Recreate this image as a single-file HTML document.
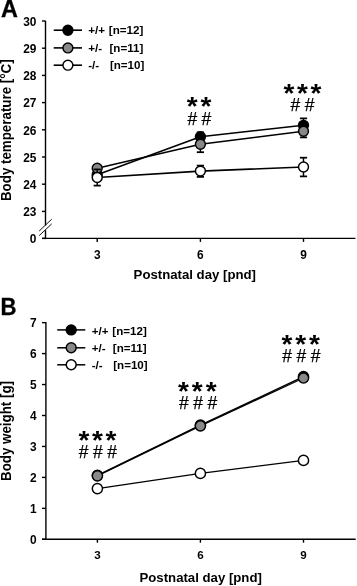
<!DOCTYPE html>
<html><head><meta charset="utf-8"><title>Body temperature and body weight</title><style>
html,body{margin:0;padding:0;background:#fff;width:357px;height:586px;overflow:hidden;}
svg{display:block;will-change:transform;}
text{font-family:"Liberation Sans",sans-serif;fill:#000;}
</style></head><body>
<svg width="357" height="586" viewBox="0 0 357 586">
<rect width="357" height="586" fill="#fff"/>
<text x="0.90" y="16.90" font-size="23.4" font-weight="bold" text-anchor="start" stroke="#000" stroke-width="0.35">A</text>
<line x1="45.50" y1="20.80" x2="45.50" y2="225.50" stroke="#000" stroke-width="1.4"/>
<line x1="45.50" y1="230.20" x2="45.50" y2="239.10" stroke="#000" stroke-width="1.4"/>
<line x1="39.20" y1="231.00" x2="51.70" y2="219.20" stroke="#111" stroke-width="1.0"/>
<line x1="39.20" y1="235.60" x2="51.70" y2="223.90" stroke="#111" stroke-width="1.0"/>
<line x1="42.00" y1="211.40" x2="45.50" y2="211.40" stroke="#000" stroke-width="1.4"/>
<text x="36.40" y="216.20" font-size="11.9" font-weight="bold" text-anchor="end" >23</text>
<line x1="42.00" y1="184.20" x2="45.50" y2="184.20" stroke="#000" stroke-width="1.4"/>
<text x="36.40" y="189.00" font-size="11.9" font-weight="bold" text-anchor="end" >24</text>
<line x1="42.00" y1="157.00" x2="45.50" y2="157.00" stroke="#000" stroke-width="1.4"/>
<text x="36.40" y="161.80" font-size="11.9" font-weight="bold" text-anchor="end" >25</text>
<line x1="42.00" y1="129.80" x2="45.50" y2="129.80" stroke="#000" stroke-width="1.4"/>
<text x="36.40" y="134.60" font-size="11.9" font-weight="bold" text-anchor="end" >26</text>
<line x1="42.00" y1="102.60" x2="45.50" y2="102.60" stroke="#000" stroke-width="1.4"/>
<text x="36.40" y="107.40" font-size="11.9" font-weight="bold" text-anchor="end" >27</text>
<line x1="42.00" y1="75.40" x2="45.50" y2="75.40" stroke="#000" stroke-width="1.4"/>
<text x="36.40" y="80.20" font-size="11.9" font-weight="bold" text-anchor="end" >28</text>
<line x1="42.00" y1="48.20" x2="45.50" y2="48.20" stroke="#000" stroke-width="1.4"/>
<text x="36.40" y="53.00" font-size="11.9" font-weight="bold" text-anchor="end" >29</text>
<line x1="42.00" y1="21.00" x2="45.50" y2="21.00" stroke="#000" stroke-width="1.4"/>
<text x="36.40" y="25.80" font-size="11.9" font-weight="bold" text-anchor="end" >30</text>
<line x1="42.00" y1="238.40" x2="45.50" y2="238.40" stroke="#000" stroke-width="1.4"/>
<text x="36.40" y="243.20" font-size="11.9" font-weight="bold" text-anchor="end" >0</text>
<line x1="42.00" y1="238.40" x2="355.50" y2="238.40" stroke="#000" stroke-width="1.4"/>
<line x1="97.20" y1="238.40" x2="97.20" y2="241.90" stroke="#000" stroke-width="1.4"/>
<text x="97.20" y="258.50" font-size="11.9" font-weight="bold" text-anchor="middle" >3</text>
<line x1="200.40" y1="238.40" x2="200.40" y2="241.90" stroke="#000" stroke-width="1.4"/>
<text x="200.40" y="258.50" font-size="11.9" font-weight="bold" text-anchor="middle" >6</text>
<line x1="303.50" y1="238.40" x2="303.50" y2="241.90" stroke="#000" stroke-width="1.4"/>
<text x="303.50" y="258.50" font-size="11.9" font-weight="bold" text-anchor="middle" >9</text>
<text x="133.60" y="278.50" font-size="13.2" font-weight="bold" text-anchor="start" >Postnatal day [pnd]</text>
<text transform="translate(11.1,130.2) rotate(-90) scale(1,1.1)" font-size="13.35" font-weight="bold" text-anchor="middle">Body temperature [°C]</text>
<line x1="53.70" y1="30.20" x2="82.00" y2="30.20" stroke="#000" stroke-width="1.6"/>
<circle cx="67.90" cy="30.20" r="4.95" fill="#000" stroke="#000" stroke-width="1.45"/>
<text x="88.20" y="34.20" font-size="11.6" font-weight="bold" text-anchor="start" >+/+</text>
<text x="108.80" y="34.20" font-size="11.6" font-weight="bold" text-anchor="start" >[n=12]</text>
<line x1="53.70" y1="47.90" x2="82.00" y2="47.90" stroke="#000" stroke-width="1.6"/>
<circle cx="67.90" cy="47.90" r="4.95" fill="#888888" stroke="#000" stroke-width="1.45"/>
<text x="88.20" y="51.90" font-size="11.6" font-weight="bold" text-anchor="start" >+/-</text>
<text x="109.50" y="51.90" font-size="11.6" font-weight="bold" text-anchor="start" >[n=11]</text>
<line x1="53.70" y1="65.20" x2="82.00" y2="65.20" stroke="#000" stroke-width="1.6"/>
<circle cx="67.90" cy="65.20" r="4.95" fill="#fff" stroke="#000" stroke-width="1.45"/>
<text x="88.20" y="69.20" font-size="11.6" font-weight="bold" text-anchor="start" >-/-</text>
<text x="109.90" y="69.20" font-size="11.6" font-weight="bold" text-anchor="start" >[n=10]</text>
<polyline points="97.20,174.80 200.40,136.70 303.50,125.30" fill="none" stroke="#000" stroke-width="1.6" stroke-linejoin="round"/>
<circle cx="97.20" cy="174.80" r="4.95" fill="#000" stroke="#000" stroke-width="1.45"/>
<line x1="200.40" y1="136.70" x2="200.40" y2="132.30" stroke="#000" stroke-width="1.45"/>
<line x1="196.80" y1="132.30" x2="204.00" y2="132.30" stroke="#000" stroke-width="1.75"/>
<circle cx="200.40" cy="136.70" r="4.95" fill="#000" stroke="#000" stroke-width="1.45"/>
<line x1="303.50" y1="125.30" x2="303.50" y2="118.40" stroke="#000" stroke-width="1.45"/>
<line x1="299.90" y1="118.40" x2="307.10" y2="118.40" stroke="#000" stroke-width="1.75"/>
<circle cx="303.50" cy="125.30" r="4.95" fill="#000" stroke="#000" stroke-width="1.45"/>
<polyline points="97.20,168.20 200.40,144.20 303.50,131.20" fill="none" stroke="#000" stroke-width="1.6" stroke-linejoin="round"/>
<line x1="97.20" y1="168.20" x2="97.20" y2="175.00" stroke="#000" stroke-width="1.45"/>
<line x1="93.60" y1="175.00" x2="100.80" y2="175.00" stroke="#000" stroke-width="1.75"/>
<circle cx="97.20" cy="168.20" r="4.95" fill="#888888" stroke="#000" stroke-width="1.45"/>
<line x1="200.40" y1="144.20" x2="200.40" y2="152.20" stroke="#000" stroke-width="1.45"/>
<line x1="196.80" y1="152.20" x2="204.00" y2="152.20" stroke="#000" stroke-width="1.75"/>
<circle cx="200.40" cy="144.20" r="4.95" fill="#888888" stroke="#000" stroke-width="1.45"/>
<line x1="303.50" y1="131.20" x2="303.50" y2="137.40" stroke="#000" stroke-width="1.45"/>
<line x1="299.90" y1="137.40" x2="307.10" y2="137.40" stroke="#000" stroke-width="1.75"/>
<circle cx="303.50" cy="131.20" r="4.95" fill="#888888" stroke="#000" stroke-width="1.45"/>
<polyline points="97.20,177.50 200.40,171.10 303.50,167.00" fill="none" stroke="#000" stroke-width="1.6" stroke-linejoin="round"/>
<line x1="97.20" y1="177.50" x2="97.20" y2="169.40" stroke="#000" stroke-width="1.45"/>
<line x1="93.60" y1="169.40" x2="100.80" y2="169.40" stroke="#000" stroke-width="1.75"/>
<line x1="97.20" y1="177.50" x2="97.20" y2="185.60" stroke="#000" stroke-width="1.45"/>
<line x1="93.60" y1="185.60" x2="100.80" y2="185.60" stroke="#000" stroke-width="1.75"/>
<circle cx="97.20" cy="177.50" r="4.95" fill="#fff" stroke="#000" stroke-width="1.45"/>
<line x1="200.40" y1="171.10" x2="200.40" y2="165.60" stroke="#000" stroke-width="1.45"/>
<line x1="196.80" y1="165.60" x2="204.00" y2="165.60" stroke="#000" stroke-width="1.75"/>
<line x1="200.40" y1="171.10" x2="200.40" y2="176.90" stroke="#000" stroke-width="1.45"/>
<line x1="196.80" y1="176.90" x2="204.00" y2="176.90" stroke="#000" stroke-width="1.75"/>
<circle cx="200.40" cy="171.10" r="4.95" fill="#fff" stroke="#000" stroke-width="1.45"/>
<line x1="303.50" y1="167.00" x2="303.50" y2="157.70" stroke="#000" stroke-width="1.45"/>
<line x1="299.90" y1="157.70" x2="307.10" y2="157.70" stroke="#000" stroke-width="1.75"/>
<line x1="303.50" y1="167.00" x2="303.50" y2="176.40" stroke="#000" stroke-width="1.45"/>
<line x1="299.90" y1="176.40" x2="307.10" y2="176.40" stroke="#000" stroke-width="1.75"/>
<circle cx="303.50" cy="167.00" r="4.95" fill="#fff" stroke="#000" stroke-width="1.45"/>
<text transform="translate(192.30,115.30) scale(1.12,1.06)" font-size="25" font-weight="bold" text-anchor="middle">*</text>
<text transform="translate(206.00,115.30) scale(1.12,1.06)" font-size="25" font-weight="bold" text-anchor="middle">*</text>
<text x="192.40" y="124.90" font-size="17.5" font-weight="normal" text-anchor="middle" stroke="#000" stroke-width="0.25">#</text>
<text x="206.30" y="124.90" font-size="17.5" font-weight="normal" text-anchor="middle" stroke="#000" stroke-width="0.25">#</text>
<text transform="translate(289.00,101.80) scale(1.12,1.06)" font-size="25" font-weight="bold" text-anchor="middle">*</text>
<text transform="translate(302.50,101.80) scale(1.12,1.06)" font-size="25" font-weight="bold" text-anchor="middle">*</text>
<text transform="translate(316.00,101.80) scale(1.12,1.06)" font-size="25" font-weight="bold" text-anchor="middle">*</text>
<text x="295.30" y="110.50" font-size="17.5" font-weight="normal" text-anchor="middle" stroke="#000" stroke-width="0.25">#</text>
<text x="309.70" y="110.50" font-size="17.5" font-weight="normal" text-anchor="middle" stroke="#000" stroke-width="0.25">#</text>
<text transform="translate(0.6,314.8) scale(0.97,1.04)" font-size="22.8" font-weight="bold" stroke="#000" stroke-width="0.3">B</text>
<line x1="45.90" y1="322.00" x2="45.90" y2="540.00" stroke="#000" stroke-width="1.4"/>
<line x1="42.00" y1="539.30" x2="45.90" y2="539.30" stroke="#000" stroke-width="1.4"/>
<text x="36.60" y="543.70" font-size="11.9" font-weight="bold" text-anchor="end" >0</text>
<line x1="42.00" y1="508.35" x2="45.90" y2="508.35" stroke="#000" stroke-width="1.4"/>
<text x="36.60" y="512.75" font-size="11.9" font-weight="bold" text-anchor="end" >1</text>
<line x1="42.00" y1="477.40" x2="45.90" y2="477.40" stroke="#000" stroke-width="1.4"/>
<text x="36.60" y="481.80" font-size="11.9" font-weight="bold" text-anchor="end" >2</text>
<line x1="42.00" y1="446.45" x2="45.90" y2="446.45" stroke="#000" stroke-width="1.4"/>
<text x="36.60" y="450.85" font-size="11.9" font-weight="bold" text-anchor="end" >3</text>
<line x1="42.00" y1="415.50" x2="45.90" y2="415.50" stroke="#000" stroke-width="1.4"/>
<text x="36.60" y="419.90" font-size="11.9" font-weight="bold" text-anchor="end" >4</text>
<line x1="42.00" y1="384.55" x2="45.90" y2="384.55" stroke="#000" stroke-width="1.4"/>
<text x="36.60" y="388.95" font-size="11.9" font-weight="bold" text-anchor="end" >5</text>
<line x1="42.00" y1="353.60" x2="45.90" y2="353.60" stroke="#000" stroke-width="1.4"/>
<text x="36.60" y="358.00" font-size="11.9" font-weight="bold" text-anchor="end" >6</text>
<line x1="42.00" y1="322.65" x2="45.90" y2="322.65" stroke="#000" stroke-width="1.4"/>
<text x="36.60" y="327.05" font-size="11.9" font-weight="bold" text-anchor="end" >7</text>
<line x1="42.00" y1="539.30" x2="355.70" y2="539.30" stroke="#000" stroke-width="1.4"/>
<line x1="97.40" y1="539.30" x2="97.40" y2="542.70" stroke="#000" stroke-width="1.4"/>
<text x="97.40" y="559.30" font-size="11.6" font-weight="bold" text-anchor="middle" >3</text>
<line x1="200.40" y1="539.30" x2="200.40" y2="542.70" stroke="#000" stroke-width="1.4"/>
<text x="200.40" y="559.30" font-size="11.6" font-weight="bold" text-anchor="middle" >6</text>
<line x1="303.50" y1="539.30" x2="303.50" y2="542.70" stroke="#000" stroke-width="1.4"/>
<text x="303.50" y="559.30" font-size="11.6" font-weight="bold" text-anchor="middle" >9</text>
<text x="139.50" y="581.90" font-size="13.2" font-weight="bold" text-anchor="start" >Postnatal day [pnd]</text>
<text transform="translate(11.1,431.0) rotate(-90) scale(1,1.1)" font-size="13.35" font-weight="bold" text-anchor="middle">Body weight [g]</text>
<line x1="57.20" y1="329.90" x2="85.30" y2="329.90" stroke="#000" stroke-width="1.5"/>
<circle cx="71.20" cy="329.90" r="4.95" fill="#000" stroke="#000" stroke-width="1.45"/>
<text x="91.70" y="334.50" font-size="11.6" font-weight="bold" text-anchor="start" >+/+</text>
<text x="112.30" y="334.50" font-size="11.6" font-weight="bold" text-anchor="start" >[n=12]</text>
<line x1="57.20" y1="347.80" x2="85.30" y2="347.80" stroke="#000" stroke-width="1.5"/>
<circle cx="71.20" cy="347.80" r="4.95" fill="#888888" stroke="#000" stroke-width="1.45"/>
<text x="91.70" y="352.40" font-size="11.6" font-weight="bold" text-anchor="start" >+/-</text>
<text x="112.80" y="352.40" font-size="11.6" font-weight="bold" text-anchor="start" >[n=11]</text>
<line x1="57.20" y1="364.80" x2="85.30" y2="364.80" stroke="#000" stroke-width="1.5"/>
<circle cx="71.20" cy="364.80" r="4.95" fill="#fff" stroke="#000" stroke-width="1.45"/>
<text x="91.70" y="369.40" font-size="11.6" font-weight="bold" text-anchor="start" >-/-</text>
<text x="113.20" y="369.40" font-size="11.6" font-weight="bold" text-anchor="start" >[n=10]</text>
<polyline points="97.40,475.30 200.40,425.10 303.50,376.60" fill="none" stroke="#000" stroke-width="1.35" stroke-linejoin="round"/>
<circle cx="97.40" cy="475.30" r="5.1" fill="#000" stroke="#000" stroke-width="1.45"/>
<circle cx="200.40" cy="425.10" r="5.1" fill="#000" stroke="#000" stroke-width="1.45"/>
<circle cx="303.50" cy="376.60" r="5.1" fill="#000" stroke="#000" stroke-width="1.45"/>
<polyline points="97.40,475.80 200.40,425.80 303.50,378.00" fill="none" stroke="#000" stroke-width="1.35" stroke-linejoin="round"/>
<circle cx="97.40" cy="475.80" r="5.1" fill="#888888" stroke="#000" stroke-width="1.45"/>
<circle cx="200.40" cy="425.80" r="5.1" fill="#888888" stroke="#000" stroke-width="1.45"/>
<circle cx="303.50" cy="378.00" r="5.1" fill="#888888" stroke="#000" stroke-width="1.45"/>
<polyline points="97.40,488.60 200.40,473.40 303.50,460.40" fill="none" stroke="#000" stroke-width="1.35" stroke-linejoin="round"/>
<circle cx="97.40" cy="488.60" r="5.1" fill="#fff" stroke="#000" stroke-width="1.45"/>
<circle cx="200.40" cy="473.40" r="5.1" fill="#fff" stroke="#000" stroke-width="1.45"/>
<circle cx="303.50" cy="460.40" r="5.1" fill="#fff" stroke="#000" stroke-width="1.45"/>
<text transform="translate(83.90,449.10) scale(1.12,1.06)" font-size="25" font-weight="bold" text-anchor="middle">*</text>
<text transform="translate(97.40,449.10) scale(1.12,1.06)" font-size="25" font-weight="bold" text-anchor="middle">*</text>
<text transform="translate(110.90,449.10) scale(1.12,1.06)" font-size="25" font-weight="bold" text-anchor="middle">*</text>
<text x="83.70" y="457.80" font-size="17.5" font-weight="normal" text-anchor="middle" stroke="#000" stroke-width="0.25">#</text>
<text x="97.90" y="457.80" font-size="17.5" font-weight="normal" text-anchor="middle" stroke="#000" stroke-width="0.25">#</text>
<text x="112.10" y="457.80" font-size="17.5" font-weight="normal" text-anchor="middle" stroke="#000" stroke-width="0.25">#</text>
<text transform="translate(183.50,399.50) scale(1.12,1.06)" font-size="25" font-weight="bold" text-anchor="middle">*</text>
<text transform="translate(197.30,399.50) scale(1.12,1.06)" font-size="25" font-weight="bold" text-anchor="middle">*</text>
<text transform="translate(211.10,399.50) scale(1.12,1.06)" font-size="25" font-weight="bold" text-anchor="middle">*</text>
<text x="183.75" y="408.80" font-size="17.5" font-weight="normal" text-anchor="middle" stroke="#000" stroke-width="0.25">#</text>
<text x="198.05" y="408.80" font-size="17.5" font-weight="normal" text-anchor="middle" stroke="#000" stroke-width="0.25">#</text>
<text x="212.35" y="408.80" font-size="17.5" font-weight="normal" text-anchor="middle" stroke="#000" stroke-width="0.25">#</text>
<text transform="translate(286.90,353.30) scale(1.12,1.06)" font-size="25" font-weight="bold" text-anchor="middle">*</text>
<text transform="translate(300.70,353.30) scale(1.12,1.06)" font-size="25" font-weight="bold" text-anchor="middle">*</text>
<text transform="translate(314.50,353.30) scale(1.12,1.06)" font-size="25" font-weight="bold" text-anchor="middle">*</text>
<text x="287.10" y="362.10" font-size="17.5" font-weight="normal" text-anchor="middle" stroke="#000" stroke-width="0.25">#</text>
<text x="301.40" y="362.10" font-size="17.5" font-weight="normal" text-anchor="middle" stroke="#000" stroke-width="0.25">#</text>
<text x="315.70" y="362.10" font-size="17.5" font-weight="normal" text-anchor="middle" stroke="#000" stroke-width="0.25">#</text>
</svg>
</body></html>
